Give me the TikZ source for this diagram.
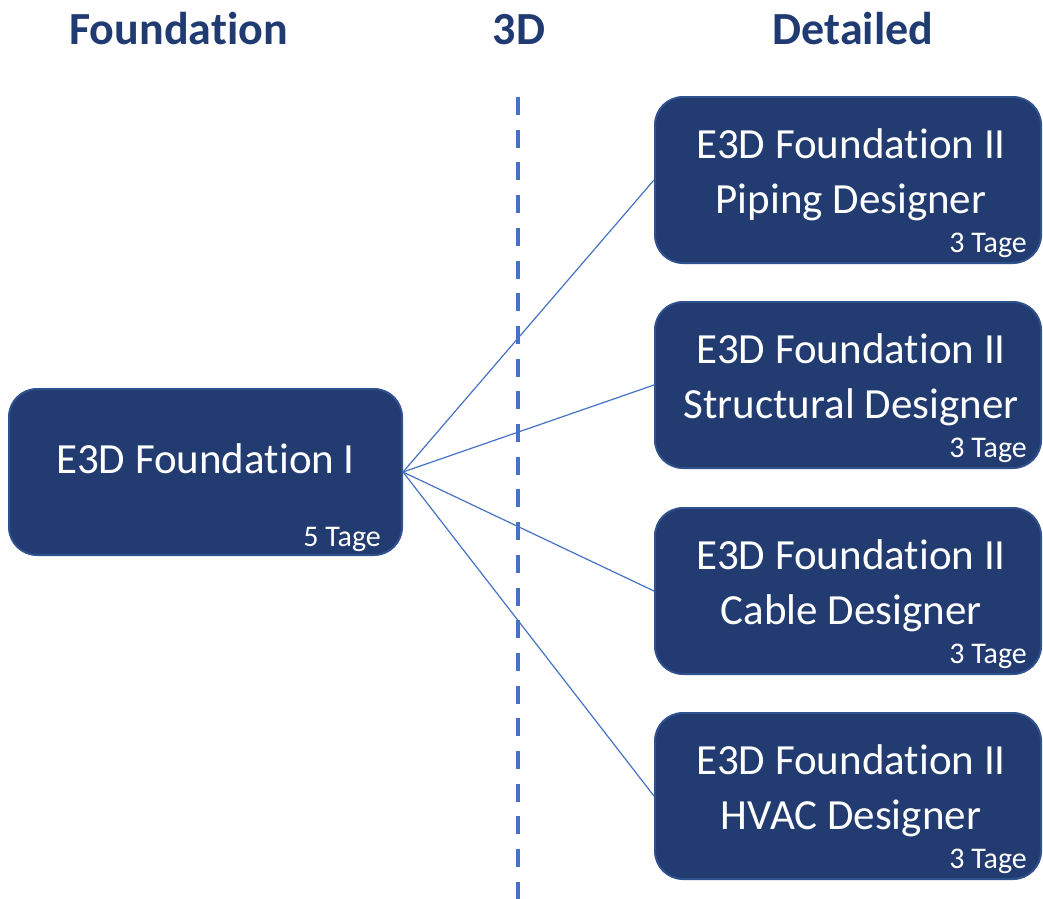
\documentclass[tikz,border=0pt]{standalone}
\usepackage{fontspec}
\setmainfont{Carlito}[Ligatures={NoCommon}]
\definecolor{boxfill}{HTML}{223B71}
\definecolor{boxline}{HTML}{2F528F}
\definecolor{headcol}{HTML}{203A72}
\definecolor{accent}{HTML}{4472C4}
\newcommand{\fnd}{Foundat\kern0pt ion}
\begin{document}
\begin{tikzpicture}[x=1pt,y=-1pt,
  box/.style={draw=boxline, line width=2pt, fill=boxfill, rounded corners=28pt, inner sep=0pt},
  lbl/.style={text=white, inner sep=0pt, anchor=base, font=\fontsize{43}{55}\selectfont},
  tage/.style={text=white, inner sep=0pt, anchor=base east, font=\fontsize{30}{35}\selectfont},
  head/.style={text=headcol, inner sep=0pt, anchor=base, font=\fontsize{46}{55}\selectfont\bfseries},
  conn/.style={draw=accent, line width=1.2pt},
  dashline/.style={draw=accent, line width=4.5pt, dash pattern=on 18pt off 14.7pt}
]
\useasboundingbox (0,0) rectangle (1043,898);
% headers
\node[head] (h1) at (178.5,44) {\fnd};
\node[head] (h2) at (519,44) {3D};
\node[head] (h3) at (853,44) {Detailed};
% dashed divider
\coordinate (dtop) at (518,97);
\coordinate (dbot) at (518,900);
\draw[dashline] (dtop) -- (dbot);
% left box
\node[box, minimum width=393pt, minimum height=166pt] (f1) at (205.5,472) {};
\node[lbl] (f1t) at (205.5,473) {E3D \fnd{} I};
\node[tage] (f1d) at (381,546) {5 Tage};
% right boxes
\node[box, minimum width=386pt, minimum height=166pt] (p1) at (848,180) {};
\node[lbl] (p1a) at (851,158) {E3D \fnd{} II};
\node[lbl] (p1b) at (851,213) {Piping Designer};
\node[tage] (p1d) at (1027,252) {3 Tage};

\node[box, minimum width=386pt, minimum height=166pt] (p2) at (848,385) {};
\node[lbl] (p2a) at (851,363) {E3D \fnd{} II};
\node[lbl] (p2b) at (851,418) {Structural Designer};
\node[tage] (p2d) at (1027,457) {3 Tage};

\node[box, minimum width=386pt, minimum height=166pt] (p3) at (848,591) {};
\node[lbl] (p3a) at (851,569) {E3D \fnd{} II};
\node[lbl] (p3b) at (851,624) {Cable Designer};
\node[tage] (p3d) at (1027,663) {3 Tage};

\node[box, minimum width=386pt, minimum height=166pt] (p4) at (848,796) {};
\node[lbl] (p4a) at (851,774) {E3D \fnd{} II};
\node[lbl] (p4b) at (851,829) {HVAC Designer};
\node[tage] (p4d) at (1027,868) {3 Tage};
% connectors
\draw[conn] (f1.east) -- (p1.west);
\draw[conn] (f1.east) -- (p2.west);
\draw[conn] (f1.east) -- (p3.west);
\draw[conn] (f1.east) -- (p4.west);
\end{tikzpicture}
\end{document}
